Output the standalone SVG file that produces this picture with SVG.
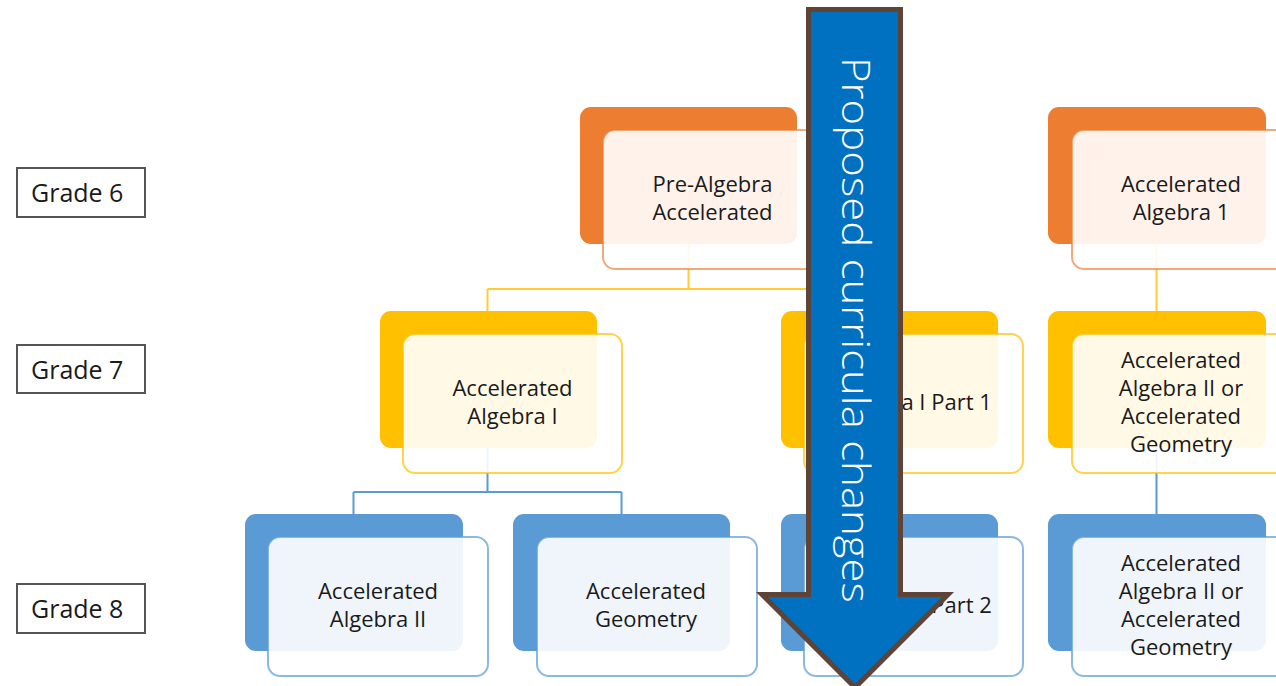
<svg xmlns="http://www.w3.org/2000/svg" width="1276" height="686" viewBox="0 0 1276 686">
<style>
.t{font-family:"Open Sans","Liberation Sans",sans-serif;font-size:22px;fill:#1a1a1a;text-anchor:middle}
.g{font-family:"Open Sans","Liberation Sans",sans-serif;font-size:25px;fill:#1a1a1a}
.gb{fill:#fff;stroke:#555;stroke-width:2}
.bo{fill:#ED7D31}.by{fill:#FFC000}.bb{fill:#5B9BD5}
.fo{fill:#fff;fill-opacity:.9;stroke:#ED7D31;stroke-opacity:.65;stroke-width:2}
.fy{fill:#fff;fill-opacity:.9;stroke:#FFC000;stroke-opacity:.7;stroke-width:2}
.fb{fill:#fff;fill-opacity:.9;stroke:#5B9BD5;stroke-opacity:.7;stroke-width:2}
.cy{fill:none;stroke:#FFC000;stroke-opacity:.8;stroke-width:2}
.cb{fill:none;stroke:#5B9BD5;stroke-width:2}
</style>
<rect width="1276" height="686" fill="#fff"/>
<g id="grade-labels">
<g id="grade6"><rect class="gb" x="17" y="168" width="128" height="49"/><text class="g" x="31" y="202">Grade 6</text></g>
<g id="grade7"><rect class="gb" x="17" y="345" width="128" height="48"/><text class="g" x="31" y="379">Grade 7</text></g>
<g id="grade8"><rect class="gb" x="17" y="584" width="128" height="49"/><text class="g" x="31" y="618">Grade 8</text></g>
</g>
<g id="connectors">
<path class="cy" d="M688.5,244V289M487.5,289H889.5M487.5,289V311M889.5,289V311M1156.5,244V311"/>
<path class="cb" d="M487.5,448V492M353.5,492H621.5M353.5,492V514M621.5,492V514M889.5,448V514M1156.5,448V514"/>
</g>
<g id="node-prealgebra">
<rect class="bo" x="580" y="107" width="217" height="137" rx="11"/>
<rect class="fo" x="603" y="130" width="219" height="139" rx="12"/>
<text class="t" x="712.5" y="192">Pre-Algebra</text><text class="t" x="712.5" y="220">Accelerated</text>
</g>
<g id="node-acc-algebra1">
<rect class="bo" x="1048" y="107" width="218" height="137" rx="11"/>
<rect class="fo" x="1072" y="130" width="219" height="139" rx="12"/>
<text class="t" x="1181" y="192">Accelerated</text><text class="t" x="1181" y="220">Algebra 1</text>
</g>
<g id="node-acc-algebraI">
<rect class="by" x="380" y="311" width="217" height="137" rx="11"/>
<rect class="fy" x="403" y="334" width="219" height="139" rx="12"/>
<text class="t" x="512.5" y="396">Accelerated</text><text class="t" x="512.5" y="424">Algebra I</text>
</g>
<g id="node-algebraI-part1">
<rect class="by" x="781" y="311" width="217" height="137" rx="11"/>
<rect class="fy" x="804" y="334" width="219" height="139" rx="12"/>
<text class="t" x="913.5" y="410">Algebra I Part 1</text>
</g>
<g id="node-g7-right">
<rect class="by" x="1048" y="311" width="218" height="137" rx="11"/>
<rect class="fy" x="1072" y="334" width="219" height="139" rx="12"/>
<text class="t" x="1181" y="368">Accelerated</text><text class="t" x="1181" y="396">Algebra II or</text><text class="t" x="1181" y="424">Accelerated</text><text class="t" x="1181" y="452">Geometry</text>
</g>
<g id="node-acc-algebraII">
<rect class="bb" x="245" y="514" width="218" height="137" rx="11"/>
<rect class="fb" x="268" y="537" width="220" height="139" rx="12"/>
<text class="t" x="378" y="599">Accelerated</text><text class="t" x="378" y="627">Algebra II</text>
</g>
<g id="node-acc-geometry">
<rect class="bb" x="513" y="514" width="217" height="137" rx="11"/>
<rect class="fb" x="537" y="537" width="220" height="139" rx="12"/>
<text class="t" x="646" y="599">Accelerated</text><text class="t" x="646" y="627">Geometry</text>
</g>
<g id="node-algebraI-part2">
<rect class="bb" x="781" y="514" width="217" height="137" rx="11"/>
<rect class="fb" x="804" y="537" width="219" height="139" rx="12"/>
<text class="t" x="913.5" y="613">Algebra I Part 2</text>
</g>
<g id="node-g8-right">
<rect class="bb" x="1048" y="514" width="218" height="137" rx="11"/>
<rect class="fb" x="1072" y="537" width="219" height="139" rx="12"/>
<text class="t" x="1181" y="571">Accelerated</text><text class="t" x="1181" y="599">Algebra II or</text><text class="t" x="1181" y="627">Accelerated</text><text class="t" x="1181" y="655">Geometry</text>
</g>
<g id="arrow">
<path d="M808.5,9.5H900.5V594.5H948L855,687.5L762,594.5H808.5Z" fill="#0070C0" stroke="#5E4337" stroke-width="5" stroke-miterlimit="10"/>
<text transform="translate(842,57) rotate(90)" x="0" y="0" font-family="Open Sans, Liberation Sans, sans-serif" font-weight="300" font-size="39" fill="#fff" textLength="546" lengthAdjust="spacingAndGlyphs">Proposed curricula changes</text>
</g>
</svg>
